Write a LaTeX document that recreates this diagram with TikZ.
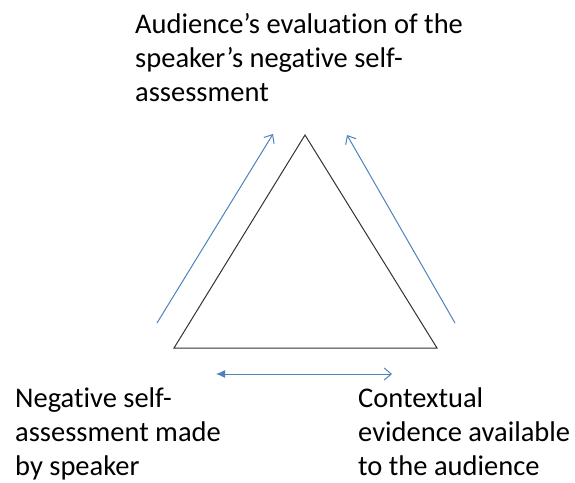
\documentclass[tikz,border=0pt]{standalone}
\usepackage{fontspec}
\setmainfont{Carlito}[Ligatures={NoCommon}]
\usetikzlibrary{arrows.meta}
\definecolor{linkblue}{HTML}{4F81BD}

\begin{document}
\begin{tikzpicture}[x=1pt, y=-1pt,
  every node/.style={inner sep=0pt, align=left, anchor=base west,
    font=\fontsize{28.5}{34}\selectfont},
  tri/.style={draw=black!80, line width=1pt},
  link/.style={draw=linkblue, line width=1pt},
  barb/.style={-{Straight Barb[length=7pt, width=12pt]}}
]
\useasboundingbox (0,0) rectangle (575,482);
% triangle corners
\coordinate (top) at (305,135);
\coordinate (left) at (174,348);
\coordinate (right) at (437,348);
\draw[tri] (top) -- (left) -- (right) -- cycle;

% labels (base = last line)
\node (audience) at (135,101) {Audience’s evaluation of the\\speaker’s negative self-\\assessment};
\node (speaker) at (15,475) {Negative self-\\assessment made\\by speaker};
\node (context) at (358,475) {Contextual\\evidence available\\to the audience};

% arrows
\coordinate (l0) at (157,323);
\coordinate (l1) at (273,134);
\coordinate (r0) at (455,323);
\coordinate (r1) at (347,135);
\coordinate (b0) at (216,374);
\coordinate (b1) at (392,374);
\draw[link, barb] (l0) -- (l1);
\draw[link, barb] (r0) -- (r1);
\draw[link, {Latex[length=9pt, width=8pt]}-{Straight Barb[length=7pt, width=12pt]}] (b0) -- (b1);
\end{tikzpicture}
\end{document}
